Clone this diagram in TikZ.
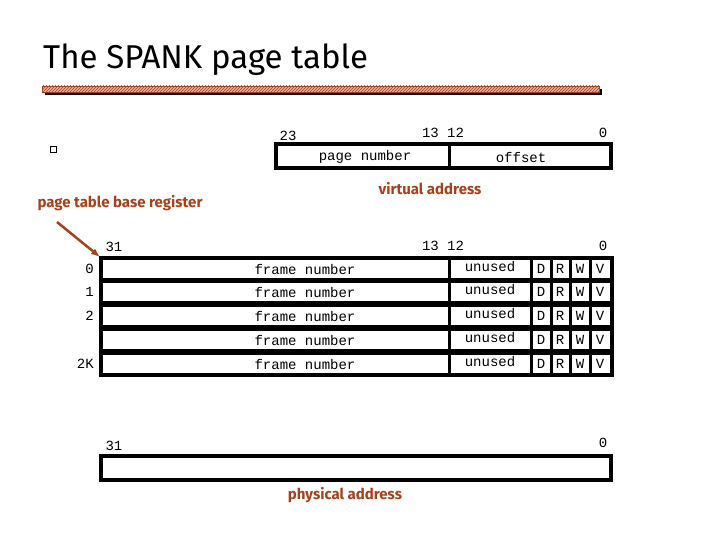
\documentclass[tikz,border=0pt]{standalone}
\usepackage{fontspec}
\setmainfont{Liberation Mono}
\newfontfamily\titlefont{Fira Sans}
\usetikzlibrary{patterns,arrows.meta}
\definecolor{brn}{HTML}{A8401A}
\begin{document}
\begin{tikzpicture}[x=1pt,y=-1pt,
  mono/.style={font=\fontsize{14}{14}\selectfont, inner sep=0pt},
  lab/.style={font=\titlefont\bfseries\fontsize{15}{15}\selectfont, text=brn, inner sep=0pt},
  box/.style={draw, line width=3.5pt}]
\useasboundingbox (0,0) rectangle (720,540);
\node[anchor=west, font=\titlefont\fontsize{33}{33}\selectfont, inner sep=0pt] (title) at (43,60) {The SPANK page table};
\fill[black] (45,89) rectangle (602,95);
\fill[brn!40] (42,86) rectangle (599,92);
\fill[pattern=north east lines, pattern color=brn] (42,86) rectangle (599,92);
\draw[brn, line width=0.6pt] (42,86) rectangle (599,92);
% bullet
\node[draw, minimum width=6pt, minimum height=6pt, inner sep=0pt, line width=1pt] (bul) at (53,150) {};
% virtual address
\draw[box] (276,144) rectangle (611,168);
\draw[line width=3pt] (449,144) -- (449,168);
\node[mono] (pn) at (365,157) {page number};
\node[mono] (off) at (521,157) {offset};
\node[mono] (v23) at (288,136) {23};
\node[mono] (v13) at (443,133) {13 12};
\node[mono] (v0) at (603,133) {0};
\node[lab] (va) at (430,189) {virtual address};
\node[lab] (ptbr) at (120,203) {page table base register};
% table
\node[mono] (t31) at (114,247) {31};
\node[mono] (t13) at (443,246) {13 12};
\node[mono] (t0) at (603,246) {0};
\coordinate (tl) at (100,257);
\draw[-{Latex[length=9pt,width=7pt]}, brn, line width=2.5pt] (57,222) -- (tl);
\foreach \r/\l/\yc in {0/0/269,1/1/292,2/2/316,3//340,4/2K/364}{
  \draw[box] (101,\yc-11) rectangle (612,\yc+11);
  \draw[line width=3pt] (449,\yc-11) -- (449,\yc+11) (531,\yc-11) -- (531,\yc+11)
     (551,\yc-11) -- (551,\yc+11) (570,\yc-11) -- (570,\yc+11) (590,\yc-11) -- (590,\yc+11);
  \node[mono] (fn\r) at (305,\yc) {frame number};
  \node[mono] (un\r) at (490,\yc-2) {unused};
  \node[mono] (d\r) at (541,\yc) {D};
  \node[mono] (rr\r) at (560,\yc) {R};
  \node[mono] (w\r) at (580,\yc) {W};
  \node[mono] (vv\r) at (600,\yc) {V};
  \node[mono, anchor=east] (idx\r) at (94,\yc) {\l};
}
% physical address
\draw[box] (101,456) rectangle (611,480);
\node[mono] (p31) at (114,446) {31};
\node[mono] (p0) at (603,443) {0};
\node[lab] (pa) at (345,495) {physical address};
\end{tikzpicture}
\end{document}
